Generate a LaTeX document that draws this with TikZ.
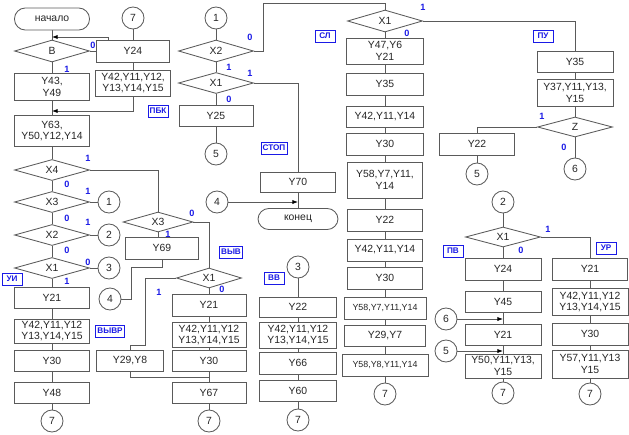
\documentclass[tikz,border=0pt]{standalone}
\usepackage{fontspec}
\setmainfont{Liberation Sans}
\usetikzlibrary{positioning,arrows.meta,shapes.geometric,calc,backgrounds}
\definecolor{lblue}{HTML}{1A1AE6}
\definecolor{lgray}{HTML}{5A5A5A}

\begin{document}
\begin{tikzpicture}[x=0.025cm, y=-0.025cm,
    bw/.style={minimum width=#1*0.025cm},
    bh/.style={minimum height=#1*0.025cm},
    base/.style={draw=lgray, line width=0.6pt, fill=white, inner sep=0pt, align=center, text=black!85, font=\fontsize{7.4}{8.4}\selectfont},
    blk/.style={base, rectangle, bw=75, bh=21},
    sml/.style={font=\fontsize{6.3}{7.5}\selectfont},
    cond/.style={base, diamond, aspect=3.5, bw=75, bh=21},
    term/.style={base, rectangle, rounded corners=0.27cm, bw=75, bh=22},
    conn/.style={base, circle, minimum size=0.55cm},
    tag/.style={draw=lblue, fill=white, text=lblue, font=\fontsize{5.8}{6}\selectfont\bfseries, inner sep=1.3pt, minimum width=0.5cm, minimum height=0.3cm},
    bit/.style={text=lblue, font=\fontsize{6.5}{7}\selectfont\bfseries, inner sep=0pt},
    line/.style={draw=lgray, line width=0.6pt},
    arrow/.style={line, -{Latex[length=4pt,width=3pt,color=black]}},
]
\useasboundingbox (0,0) rectangle (629,434);

\node[term] (start) at (52,19) {начало};
\node[cond, bh=22] (b) at (52,51) {B};
\node[blk, bh=27] (y43) at (52,87) {Y43,\\Y49};
\node[blk, bh=31] (y63) at (52,131) {Y63,\\Y50,Y12,Y14};
\node[cond] (x4) at (52,170) {X4};
\node[cond] (x3) at (52,202) {X3};
\node[cond] (x2) at (52,235) {X2};
\node[cond] (x1) at (52,268) {X1};
\node[blk] (y21a) at (52,298) {Y21};
\node[blk, bh=24] (y42a) at (52,331) {Y42,Y11,Y12\\Y13,Y14,Y15};
\node[blk] (y30a) at (52,361) {Y30};
\node[blk] (y48) at (52,393) {Y48};
\node[conn] (e7a) at (52,421) {7};
\node[conn] (o1) at (109,202) {1};
\node[conn] (o2) at (109,235) {2};
\node[conn] (o3) at (109,268) {3};
\node[conn] (i4) at (110,299) {4};

\node[conn] (s7) at (133,18) {7};
\node[blk, bw=73, bh=22] (y24) at (133,51) {Y24};
\node[blk, bh=26] (y42b) at (133,83) {Y42,Y11,Y12,\\Y13,Y14,Y15};

\node[cond, bw=70, bh=20] (x3b) at (158,222) {X3};
\node[blk, bw=73, bh=22] (y69) at (162,248) {Y69};
\node[cond, bw=65, bh=20] (x1b) at (209,278) {X1};
\node[blk, bw=67] (y29a) at (130,361) {Y29,Y8};
\node[blk, bw=74, bh=22] (y21c) at (209,305) {Y21};
\node[blk, bw=74, bh=25] (y42c) at (209,335) {Y42,Y11,Y12\\Y13,Y14,Y15};
\node[blk, bw=74] (y30c) at (209,361) {Y30};
\node[blk, bw=74] (y67) at (209,393) {Y67};
\node[conn] (e7c) at (209,421) {7};

\node[conn] (s1) at (216,18) {1};
\node[cond, bh=22] (x2d) at (216,51) {X2};
\node[cond] (x1d) at (216,83) {X1};
\node[blk, bw=74] (y25) at (216,116) {Y25};
\node[conn] (e5) at (216,154) {5};
\node[conn] (s4) at (217,202) {4};

\node[blk, bh=20] (y70) at (298,182) {Y70};
\node[term, bw=80, bh=21] (fin) at (298,219) {конец};
\node[conn] (s3) at (298,267) {3};
\node[blk, bw=77, bh=20] (y22e) at (298,307) {Y22};
\node[blk, bw=77, bh=26] (y42e) at (298,335) {Y42,Y11,Y12\\Y13,Y14,Y15};
\node[blk, bw=77, bh=22] (y66) at (298,363) {Y66};
\node[blk, bw=77] (y60) at (298,391) {Y60};
\node[conn] (e7e) at (298,420) {7};

\node[cond, bh=22] (x1f) at (385,21) {X1};
\node[blk, bw=77, bh=26] (y47) at (385,51) {Y47,Y6\\Y21};
\node[blk, bw=77, bh=22] (y35f) at (385,84) {Y35};
\node[blk, bw=77] (y42f) at (385,117) {Y42,Y11,Y14};
\node[blk, bw=77, bh=22] (y30f) at (385,144) {Y30};
\node[blk, bw=75, bh=36] (y58f) at (385,180) {Y58,Y7,Y11,\\Y14};
\node[blk, bw=75, bh=22] (y22f) at (385,220) {Y22};
\node[blk, bw=75, bh=22] (y42g) at (385,250) {Y42,Y11,Y14};
\node[blk, bw=75, bh=22] (y30g) at (385,278) {Y30};
\node[blk, sml, bw=82, bh=22] (y58g) at (385,308) {Y58,Y7,Y11,Y14};
\node[blk, bw=81] (y29b) at (385,336) {Y29,Y7};
\node[blk, sml, bw=86, bh=22] (y58h) at (385,365) {Y58,Y8,Y11,Y14};
\node[conn] (e7f) at (385,394) {7};

\node[blk, bh=22] (y22b) at (477,144) {Y22};
\node[conn] (e5b) at (477,174) {5};
\node[conn] (s2) at (503,202) {2};
\node[cond, bh=20] (x1g) at (503,237) {X1};
\node[blk, bw=76, bh=22] (y24g) at (503,269) {Y24};
\node[blk, bw=76] (y45) at (503,302) {Y45};
\node[blk, bw=76] (y21g) at (503,335) {Y21};
\node[blk, bw=76, bh=24] (y50) at (503,366) {Y50,Y11,Y13,\\Y15};
\node[conn] (e7g) at (503,393) {7};
\node[conn] (s6) at (446,319) {6};
\node[conn] (s5) at (446,351) {5};

\node[blk, bw=76] (y35h) at (575,62) {Y35};
\node[blk, bw=76, bh=27] (y37) at (575,93) {Y37,Y11,Y13,\\Y15};
\node[cond, bh=20] (z) at (575,127) {Z};
\node[conn] (e6) at (575,169) {6};
\node[blk, bh=22] (y21h) at (590,269) {Y21};
\node[blk, bw=76, bh=27] (y42h) at (590,302) {Y42,Y11,Y12\\Y13,Y14,Y15};
\node[blk, bw=76, bh=22] (y30h) at (590,334) {Y30};
\node[blk, bw=76, bh=28] (y57) at (590,364) {Y57,Y11,Y13\\Y15};
\node[conn] (e7h) at (590,394) {7};

\node[tag] (tpbk) at (158,111) {ПБК};
\node[tag] (tui) at (12,279) {УИ};
\node[tag] (tvyvr) at (110,331) {ВЫВР};
\node[tag] (tvyv) at (231,252) {ВЫВ};
\node[tag] (tstop) at (274,148) {СТОП};
\node[tag] (tvv) at (274,278) {ВВ};
\node[tag] (tsl) at (325,36) {СЛ};
\node[tag] (tpu) at (543,36) {ПУ};
\node[tag] (tpv) at (453,251) {ПВ};
\node[tag] (tur) at (606,248) {УР};

\foreach \x/\y/\v [count=\k] in {93/45/0, 67/69/1, 88/158/1, 67/184/0, 88/191/1, 67/218/0,
    88/222/1, 67/250/0, 88/262/0, 67/281/1, 192/213/0, 168/234/1, 222/289/0, 159/292/1,
    250/37/0, 229/67/1, 250/73/1, 229/99/0, 423/7/1, 407/33/0, 542/116/1, 564/147/0,
    548/229/1, 521/250/0}
  \node[bit] (n\k) at (\x,\y) {\v};

\coordinate (jb) at (52,37);
\coordinate (jy) at (52,111);
\coordinate (jc) at ($(y30c.south)!0.5!(y67.north)$);

\begin{scope}[on background layer]
\draw[line] (start)--(b) (b)--(y43) (y43)--(y63) (y63)--(x4) (x4)--(x3) (x3)--(x2) (x2)--(x1);
\draw[line] (x1)--(y21a) (y21a)--(y42a) (y42a)--(y30a) (y30a)--(y48) (y48)--(e7a);
\draw[line] (x3)--(o1) (x2)--(o2) (x1)--(o3);
\draw[arrow] (b.east) -- ++(18,0) |- (jb);
\draw[line] (s7)--(y24) (y24)--(y42b);
\draw[arrow] (y42b.south) |- (jy);

\draw[line] (x4.east) -| (x3b.north);
\draw[line] (x3b.south) -- (x3b.south |- y69.north);
\draw[line] (y69.south) -- ++(0,8) -| ($(i4.east)+(10,0)$) -- (i4.east);
\draw[line] (x3b.east) -| (x1b.north);
\draw[line] (x1b.west) -| ++(-31,67) -| (y29a.north);
\draw[line] (y29a.south) |- (jc);
\draw[line] (x1b)--(y21c) (y21c)--(y42c) (y42c)--(y30c) (y30c)--(y67) (y67)--(e7c);

\draw[line] (s1)--(x2d) (x2d)--(x1d) (x1d)--(y25) (y25)--(e5);
\draw[line] (x2d.east) -- ++(9,0) |- ($(x1f.north)+(0,-6)$) -- (x1f.north);
\draw[line] (x1d.east) -| (y70.north);
\draw[arrow] (s4.east) -- (s4.east -| y70.south);
\draw[line] (y70)--(fin);
\draw[line] (s3)--(y22e) (y22e)--(y42e) (y42e)--(y66) (y66)--(y60) (y60)--(e7e);

\draw[line] (x1f)--(y47) (y47)--(y35f) (y35f)--(y42f) (y42f)--(y30f) (y30f)--(y58f) (y58f)--(y22f);
\draw[line] (y22f)--(y42g) (y42g)--(y30g) (y30g)--(y58g) (y58g)--(y29b) (y29b)--(y58h) (y58h)--(e7f);
\draw[line] (x1f.east) -| (y35h.north);
\draw[line] (y35h)--(y37) (y37)--(z) (z)--(e6) (y22b)--(e5b);
\draw[line] (z.west) -| (y22b.north);

\draw[line] (s2)--(x1g) (x1g)--(y24g) (y24g)--(y45) (y45)--(y21g) (y21g)--(y50) (y50)--(e7g);
\draw[line] (x1g.east) -| (y21h.north);
\draw[arrow] (s6.east) -- (s6.east -| y45.south);
\draw[arrow] (s5.east) -- (s5.east -| y21g.north);
\draw[line] (y21h)--(y42h) (y42h)--(y30h) (y30h)--(y57) (y57)--(e7h);
\end{scope}
\end{tikzpicture}
\end{document}
